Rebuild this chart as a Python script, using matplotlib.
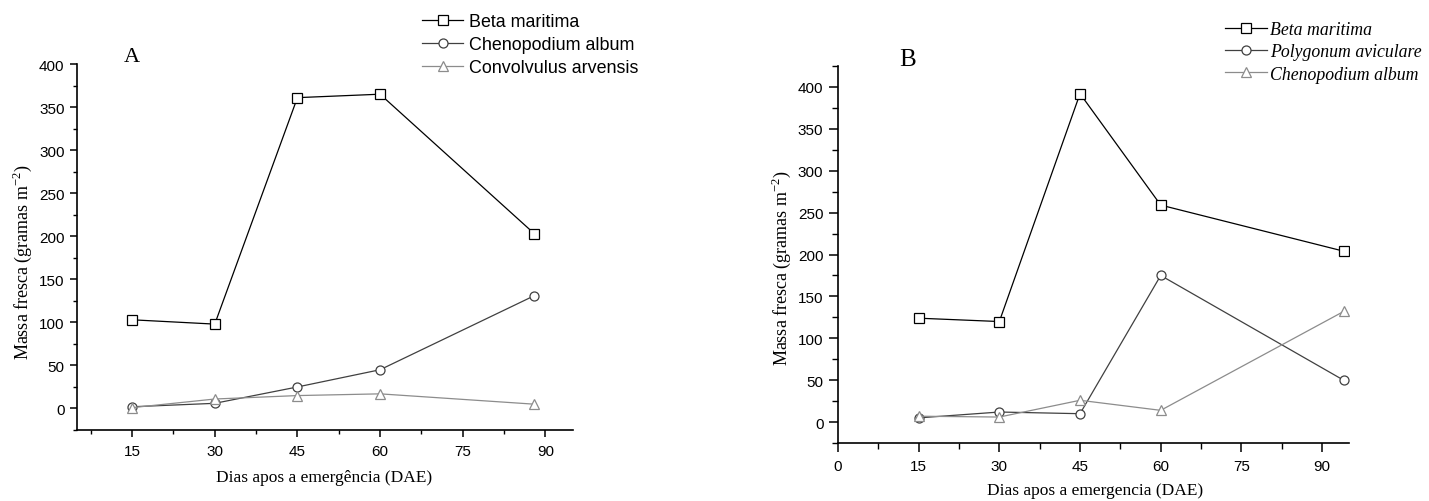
import matplotlib
matplotlib.use("Agg")
import matplotlib.pyplot as plt
from matplotlib.ticker import MultipleLocator

# painel A
dias_a = [15, 30, 45, 60, 88]
beta_a = [103, 98, 361, 365, 203]
cheno_a = [2, 6, 25, 45, 131]
convol_a = [1, 11, 15, 17, 5]
nomes_a = ["Beta maritima", "Chenopodium album", "Convolvulus arvensis"]

# painel B
dias_b = [15, 30, 45, 60, 94]
beta_b = [124, 120, 392, 259, 204]
polyg_b = [5, 12, 10, 175, 50]
cheno_b = [7, 6, 26, 14, 132]
nomes_b = ["Beta maritima", "Polygonum aviculare", "Chenopodium album"]

cores = ["#000000", "#404040", "#8c8c8c"]
marcas = ["s", "o", "^"]

SANS = "Liberation Sans"
SERIF = "Liberation Serif"

fig = plt.figure(figsize=(14.29, 5.02), dpi=100)
ax_a = fig.add_axes([0.0539, 0.1414, 0.347, 0.729])
ax_b = fig.add_axes([0.5864, 0.1155, 0.3576, 0.751])


def desenha(ax, dias, series, nomes):
    linhas = []
    for ys, cor, m, nome in zip(series, cores, marcas, nomes):
        ln, = ax.plot(dias, ys, color=cor, lw=0.9, marker=m, ms=6.5 if m != "^" else 7.5,
                      mfc="white", mec=cor, mew=0.9, label=nome)
        linhas.append(ln)
    for s in ["top", "right"]:
        ax.spines[s].set_visible(False)
    for s in ["left", "bottom"]:
        ax.spines[s].set_linewidth(1.2)
    ax.xaxis.set_major_locator(MultipleLocator(15))
    ax.xaxis.set_minor_locator(MultipleLocator(7.5))
    ax.yaxis.set_major_locator(MultipleLocator(50))
    ax.yaxis.set_minor_locator(MultipleLocator(25))
    ax.tick_params(which="major", length=5, width=1.1, labelsize=11)
    ax.tick_params(which="minor", length=3, width=1.0)
    ax.tick_params(axis="x", which="major", pad=5)
    ax.tick_params(axis="y", which="major", pad=4)
    for lab in ax.get_xticklabels() + ax.get_yticklabels():
        lab.set_family(SANS)
    ax.set_xlabel("Dias apos a emergência (DAE)", family=SERIF, fontsize=12.5, va="center")
    ax.set_ylabel("Massa fresca (gramas m$^{\\mathregular{-2}}$)", family=SERIF, fontsize=13,
                  va="center")
    return linhas


desenha(ax_a, dias_a, [beta_a, cheno_a, convol_a], nomes_a)
ax_a.set_xlim(5, 95)
ax_a.set_ylim(-25, 400)
ax_a.xaxis.set_label_coords(0.498, -0.128)
ax_a.yaxis.set_label_coords(-0.111, 0.462)
ax_a.text(0.111, 1.022, "A", transform=ax_a.transAxes, family=SERIF, fontsize=16,
          ha="center", va="center")
ax_a.legend(loc="upper left", bbox_to_anchor=(422 / 1429, 1 - 14 / 502),
            bbox_transform=fig.transFigure, frameon=False, borderpad=0, borderaxespad=0,
            handlelength=2.3, handletextpad=0.3, labelspacing=0.33,
            prop={"family": SANS, "size": 12.9})

desenha(ax_b, dias_b, [beta_b, polyg_b, cheno_b], nomes_b)
ax_b.set_xlabel("Dias apos a emergencia (DAE)")
ax_b.set_xlim(0, 95)
ax_b.set_ylim(-25, 425)
ax_b.tick_params(which="major", length=6.5)
ax_b.tick_params(which="minor", length=4)
ax_b.xaxis.set_label_coords(0.503, -0.125)
ax_b.yaxis.set_label_coords(-0.11, 0.467)
ax_b.text(0.137, 1.019, "B", transform=ax_b.transAxes, family=SERIF, fontsize=18,
          ha="center", va="center")
ax_b.legend(loc="upper left", bbox_to_anchor=(1225 / 1429, 1 - 22 / 502),
            bbox_transform=fig.transFigure, frameon=False, borderpad=0, borderaxespad=0,
            handlelength=2.35, handletextpad=0.2, labelspacing=0.3,
            prop={"family": SERIF, "style": "italic", "size": 12.8})

fig.savefig("out.png", dpi=100)
